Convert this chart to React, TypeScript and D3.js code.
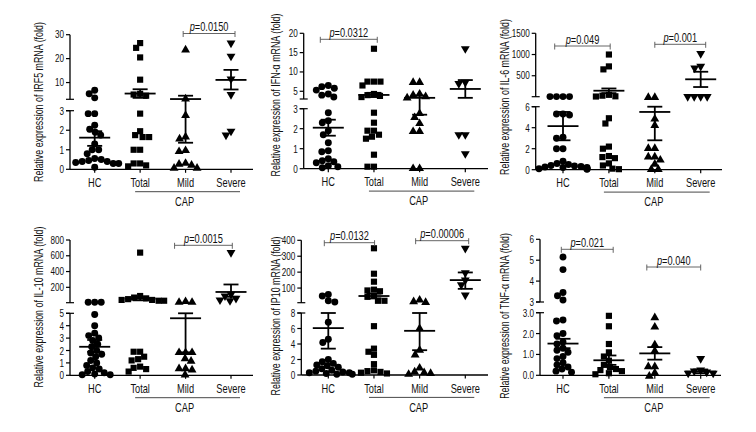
import React from "react";
import * as d3 from "d3";

// ---------- categories / labels ----------
const categories = ["HC", "Total", "Mild", "Severe"];
const groupLabel = "CAP";

// ---------- IRF5 ----------
const irf5HC = [6.8, 5.3, 3.6, 2.85, 2.85, 2.25, 2.05, 1.9, 1.75, 1.3, 1.0, 1.0, 0.8, 0.55, 0.5, 0.45, 0.4, 0.4, 0.35, 0.3, 0.3, 0.1];
const irf5Total = [26.5, 24.5, 20.5, 11.2, 5.3, 5.0, 4.5, 2.85, 1.95, 1.75, 1.65, 1.65, 1.0, 1.0, 0.3, 0.3, 0.2, 0.15];
const irf5Mild = [24, 3.5, 2.8, 1.7, 1.6, 1.0, 0.95, 0.35, 0.3, 0.25, 0.1, 0.1];
const irf5Severe = [26.5, 21, 11.5, 5.0, 1.95, 1.75];
const irf5Mean = [1.62, 5.4, 3.1, 11.1];
const irf5Lo = [1.2, 3.6, 1.36, 7.1];
const irf5Hi = [1.95, 7.2, 4.5, 15.3];

// ---------- IFN-α ----------
const ifnHC = [6.5, 6.2, 5.8, 5.3, 4.3, 4.0, 3.5, 2.8, 2.4, 2.3, 1.9, 1.7, 1.3, 0.9, 0.85, 0.5, 0.4, 0.35, 0.3, 0.15, 0.1, 0.05];
const ifnTotal = [16, 7.5, 7.5, 7.5, 6.5, 4.3, 4.0, 3.8, 3.5, 2.8, 2.3, 1.9, 1.9, 1.7, 1.6, 1.5, 0.7, 0.1, 0.1];
const ifnMild = [7.5, 7.5, 4.5, 4.2, 3.8, 3.5, 2.8, 2.6, 2.3, 1.9, 1.9, 0.05, 0.05];
const ifnSevere = [16, 7.3, 7.0, 1.7, 1.7, 0.75];
const ifnMean = [2.05, 4.05, 3.3, 5.6];
const ifnLo = [1.65, 3.5, 2.7, 3.3];
const ifnHi = [2.45, 4.6, 3.9, 7.9];

// ---------- IL-6 ----------
const il6HC = [8, 8, 8, 8, 5.3, 5.3, 5.2, 3.1, 3.0, 2.0, 2.0, 0.8, 0.6, 0.5, 0.4, 0.35, 0.3, 0.25, 0.2, 0.2, 0.15, 0.1, 0.1, 0.05];
const il6Total = [1000, 720, 650, 50, 30, 15, 10, 4.9, 4.4, 2.2, 2.0, 1.3, 1.2, 1.1, 0.6, 0.4, 0.1, 0.05];
const il6Mild = [8, 8, 4.9, 4.3, 2.1, 2.1, 1.3, 1.3, 1.0, 0.6, 0.1, 0.1];
const il6Severe = [1020, 720, 680, 10, 10, 10, 10];
const il6Mean = [4.15, 147, 5.5, 416];
const il6Lo = [2.8, 90, 2.8, 234];
const il6Hi = [5.5, 200, 6.0, 594];

// ---------- IL-10 ----------
const il10HC = [10, 10, 10, 4.9, 4.0, 3.4, 3.2, 3.0, 2.8, 2.5, 2.3, 2.0, 1.8, 1.7, 1.5, 1.2, 1.0, 0.8, 0.6, 0.5, 0.3, 0.2, 0.1, 0.05, 0.05];
const il10Total = [640, 90, 70, 60, 50, 40, 40, 30, 30, 1.9, 1.9, 1.5, 1.3, 1.2, 0.7, 0.6, 0.5, 0.3];
const il10Mild = [30, 20, 20, 1.9, 1.9, 1.9, 1.4, 1.2, 0.6, 0.6, 0.5, 0.1];
const il10Severe = [640, 110, 90, 60, 40, 30];
const il10Mean = [2.3, 56, 4.6, 141];
const il10Lo = [1.9, 35, 1.85, 80];
const il10Hi = [2.85, 75, 5.0, 236];

// ---------- IP10 ----------
const ip10HC = [60, 50, 20, 12, 6.8, 4.6, 4.2, 2.0, 1.7, 1.5, 1.3, 1.2, 1.0, 0.8, 0.6, 0.5, 0.4, 0.3, 0.3, 0.2, 0.1, 0.1];
const ip10Total = [350, 190, 140, 90, 85, 80, 50, 45, 20, 20, 6.3, 3.4, 3.0, 2.6, 1.4, 0.6, 0.5, 0.4, 0.3, 0.2];
const ip10Mild = [30, 20, 15, 6.1, 3.3, 2.7, 1.0, 0.5, 0.4, 0.3, 0.2];
const ip10Severe = [350, 195, 150, 120, 56];
const ip10Mean = [6.05, 50, 5.7, 150];
const ip10Lo = [3.4, 35, 3.2, 95];
const ip10Hi = [8.0, 65, 8.0, 198];

// ---------- TNF-α ----------
const tnfHC = [5.15, 4.55, 3.45, 3.3, 3.1, 2.65, 2.6, 2.0, 1.9, 1.6, 1.5, 1.3, 1.2, 1.1, 0.9, 0.8, 0.6, 0.5, 0.4, 0.3, 0.2, 0.15];
const tnfTotal = [2.85, 2.35, 1.5, 1.1, 0.9, 0.7, 0.5, 0.4, 0.3, 0.25, 0.2, 0.1, 0.05];
const tnfMild = [2.8, 2.35, 1.5, 1.2, 0.45, 0.45, 0.15, 0.0];
const tnfSevere = [0.8, 0.25, 0.2, 0.15, 0.1, 0.1];
const tnfMean = [1.52, 0.72, 1.05, 0.18];
const tnfLo = [1.3, 0.5, 0.75, 0.1];
const tnfHi = [1.75, 0.95, 1.35, 0.28];

// ---------- y tick labels ----------
const irf5UpTicks = [10, 20, 30];
const irf5LowTicks = [0, 1, 2, 3];
const ifnUpTicks = [5, 10, 15, 20];
const ifnLowTicks = [0, 1, 2, 3];
const il6UpTicks = [500, 1000, 1500];
const il6LowTicks = [0, 2, 4, 6];
const il10UpTicks = [200, 400, 600, 800];
const il10LowTicks = [0, 1, 2, 3, 4, 5];
const ip10UpTicks = [100, 200, 300, 400];
const ip10LowTicks = [0, 2, 4, 6, 8];
const tnfUpTicks = [3, 4, 5, 6];
const tnfLowTicks = [0, 1, 2, 3];

const FONT = "'Liberation Sans', Arial, sans-serif";
const NARROW = 0.74;

const panels = [
  {
    label: "Relative expression of IRF5 mRNA (fold)",
    groups: [irf5HC, irf5Total, irf5Mild, irf5Severe],
    mean: irf5Mean, lo: irf5Lo, hi: irf5Hi,
    upTicks: irf5UpTicks, lowTicks: irf5LowTicks, fmt: (v: number) => String(v),
    spineX: 70, axisEnd: 253, catRange: [94.7, 231],
    lowDom: [0, 3], lowRange: [169.3, 110.7], upDom: [3, 30], upRange: [99.3, 34.7],
    labelX: 39, labelY: 102,
    brackets: [{ a: 2, b: 3, dxA: -2.4, dxB: 4, y: 33.5, text: "0.0150" }],
  },
  {
    label: "Relative expression of IFN-\u03b1 mRNA (fold)",
    groups: [ifnHC, ifnTotal, ifnMild, ifnSevere],
    mean: ifnMean, lo: ifnLo, hi: ifnHi,
    upTicks: ifnUpTicks, lowTicks: ifnLowTicks, fmt: (v: number) => String(v),
    spineX: 303.7, axisEnd: 488, catRange: [328.3, 465.3],
    lowDom: [0, 3], lowRange: [168.7, 108.7], upDom: [3, 20], upRange: [99, 33.3],
    labelX: 276, labelY: 95,
    brackets: [{ a: 0, b: 1, dxA: -8, dxB: 3.3, y: 39.3, text: "0.0312" }],
  },
  {
    label: "Relative expression of IL-6 mRNA (fold)",
    groups: [il6HC, il6Total, il6Mild, il6Severe],
    mean: il6Mean, lo: il6Lo, hi: il6Hi,
    upTicks: il6UpTicks, lowTicks: il6LowTicks, fmt: (v: number) => String(v),
    spineX: 535.7, axisEnd: 722, catRange: [563, 700.7],
    lowDom: [0, 6], lowRange: [169.7, 106.7], upDom: [6, 1500], upRange: [96.7, 33.3],
    labelX: 505, labelY: 97,
    brackets: [
      { a: 0, b: 1, dxA: -8.3, dxB: 1.3, y: 46, text: "0.049" },
      { a: 2, b: 3, dxA: 0, dxB: 5, y: 44.3, text: "0.001" },
    ],
  },
  {
    label: "Relative expression of IL-10 mRNA (fold)",
    groups: [il10HC, il10Total, il10Mild, il10Severe],
    mean: il10Mean, lo: il10Lo, hi: il10Hi,
    upTicks: il10UpTicks, lowTicks: il10LowTicks, fmt: (v: number) => String(v),
    spineX: 70, axisEnd: 253, catRange: [94.7, 231],
    lowDom: [0, 5], lowRange: [375.3, 313.3], upDom: [5, 800], upRange: [302.7, 240],
    labelX: 39, labelY: 307,
    brackets: [{ a: 2, b: 3, dxA: -11, dxB: 1.3, y: 245.3, text: "0.0015" }],
  },
  {
    label: "Relative expression of IP10 mRNA (fold)",
    groups: [ip10HC, ip10Total, ip10Mild, ip10Severe],
    mean: ip10Mean, lo: ip10Lo, hi: ip10Hi,
    upTicks: ip10UpTicks, lowTicks: ip10LowTicks, fmt: (v: number) => String(v),
    spineX: 301.3, axisEnd: 488, catRange: [328.3, 465.3],
    lowDom: [0, 8], lowRange: [375, 313], upDom: [8, 400], upRange: [302.7, 240.3],
    labelX: 276, labelY: 316,
    brackets: [
      { a: 0, b: 1, dxA: -4, dxB: 0.6, y: 242.7, text: "0.0132" },
      { a: 2, b: 3, dxA: -4, dxB: 3.4, y: 240.7, text: "0.00006" },
    ],
  },
  {
    label: "Relative expression of TNF-\u03b1 mRNA (fold)",
    groups: [tnfHC, tnfTotal, tnfMild, tnfSevere],
    mean: tnfMean, lo: tnfLo, hi: tnfHi,
    upTicks: tnfUpTicks, lowTicks: tnfLowTicks, fmt: (v: number) => d3.format(".1f")(v),
    upFmt: (v: number) => String(v),
    spineX: 540, axisEnd: 721, catRange: [563, 700.7],
    lowDom: [0, 3], lowRange: [375.3, 312.7], upDom: [3, 6], upRange: [302, 239.3],
    labelX: 505, labelY: 316,
    brackets: [
      { a: 0, b: 1, dxA: -1.7, dxB: 4.3, y: 249.3, text: "0.021" },
      { a: 2, b: 3, dxA: -8, dxB: 0, y: 267, text: "0.040" },
    ],
  },
];

const symbolTypes = [d3.symbolCircle, d3.symbolSquare, d3.symbolTriangle, d3.symbolTriangle];
const symbolSizes = [38, 38, 34, 34];

function swarm(ys: number[], d: number, maxOff: number) {
  const placed: { x: number; y: number }[] = [];
  const order = ys.map((y, i) => i).sort((a, b) => ys[a] - ys[b]);
  const xs = new Array(ys.length).fill(0);
  for (const i of order) {
    const y = ys[i];
    let best = 0;
    for (let k = 0; k <= maxOff * 4; k++) {
      const off = (k % 2 === 0 ? 1 : -1) * Math.ceil(k / 2) * 0.5;
      const ok = placed.every((p) => (p.x - off) ** 2 + (p.y - y) ** 2 >= d * d);
      best = off;
      if (ok) break;
    }
    xs[i] = best;
    placed.push({ x: best, y });
  }
  return xs;
}

// condensed text helper
function NText({ x, y, anchor = "middle", size = 12, rotate = 0, children }: any) {
  return (
    <text
      transform={`translate(${x},${y})${rotate ? ` rotate(${rotate})` : ""} scale(${NARROW},1)`}
      textAnchor={anchor}
      fontSize={size}
      fontFamily={FONT}
      fill="#111"
    >
      {children}
    </text>
  );
}

function Panel({ p }: { p: any }) {
  const x = d3.scalePoint<string>().domain(categories).range(p.catRange);
  const low = d3.scaleLinear().domain(p.lowDom).range(p.lowRange);
  const up = d3.scaleLinear().domain(p.upDom).range(p.upRange);
  const y = (v: number) => (v <= p.lowDom[1] ? low(v) : up(Math.max(v, p.upDom[0])));
  const baseY = p.lowRange[0];
  const upFmt = p.upFmt || p.fmt;
  const sx = p.spineX;
  const lineX1 = (x(categories[1]) as number) - 5;
  const lineX2 = (x(categories[3]) as number) + 9;

  return (
    <g>
      {/* y label */}
      <NText x={p.labelX + 4.2} y={p.labelY} rotate={-90} size={12}>
        {p.label}
      </NText>

      {/* y axis: lower segment */}
      <line x1={sx} x2={sx} y1={p.lowRange[0]} y2={p.lowRange[1]} stroke="#000" strokeWidth={1.3} />
      <line x1={sx - 4} x2={sx + 4} y1={p.lowRange[1]} y2={p.lowRange[1]} stroke="#000" strokeWidth={1.2} />
      {p.lowTicks.map((t: number) => (
        <g key={"lt" + t}>
          <line x1={sx - 4} x2={sx} y1={low(t)} y2={low(t)} stroke="#000" strokeWidth={1.2} />
          <NText x={sx - 6} y={low(t) + 4} anchor="end" size={11}>
            {p.fmt(t)}
          </NText>
        </g>
      ))}
      {/* y axis: upper segment */}
      <line x1={sx} x2={sx} y1={p.upRange[0]} y2={p.upRange[1]} stroke="#000" strokeWidth={1.3} />
      <line x1={sx - 4} x2={sx + 4} y1={p.upRange[0]} y2={p.upRange[0]} stroke="#000" strokeWidth={1.2} />
      {p.upTicks.map((t: number) => (
        <g key={"ut" + t}>
          <line x1={sx - 4} x2={sx} y1={up(t)} y2={up(t)} stroke="#000" strokeWidth={1.2} />
          <NText x={sx - 6} y={up(t) + 3.5} anchor="end" size={11}>
            {upFmt(t)}
          </NText>
        </g>
      ))}

      {/* x axis */}
      <line x1={sx} x2={p.axisEnd} y1={baseY} y2={baseY} stroke="#000" strokeWidth={1.3} />
      {categories.map((c) => (
        <g key={c}>
          <line x1={x(c)} x2={x(c)} y1={baseY} y2={baseY + 3.5} stroke="#000" strokeWidth={1.2} />
          <NText x={x(c)} y={baseY + 17.5} size={12.5}>
            {c}
          </NText>
        </g>
      ))}
      <line x1={lineX1} x2={lineX2} y1={baseY + 22.4} y2={baseY + 22.4} stroke="#333" strokeWidth={0.9} />
      <NText x={(lineX1 + lineX2) / 2 - 3} y={baseY + 36.5} size={12.5}>
        {groupLabel}
      </NText>

      {/* points */}
      {p.groups.map((vals: number[], gi: number) => {
        const cx = x(categories[gi]) as number;
        const ys = vals.map(y);
        const offs = swarm(ys, 6.2, 24);
        const sym = d3.symbol().type(symbolTypes[gi]).size(symbolSizes[gi])();
        return (
          <g key={"g" + gi}>
            {vals.map((v, i) => (
              <path
                key={i}
                d={sym as string}
                transform={`translate(${cx + offs[i]},${ys[i]})${gi === 3 ? " rotate(180)" : gi === 2 ? " translate(0,0.8)" : ""}`}
                fill="#000"
              />
            ))}
          </g>
        );
      })}

      {/* mean ± SEM */}
      {categories.map((c, gi) => {
        const cx = x(c) as number;
        return (
          <g key={"m" + gi} stroke="#000">
            <line x1={cx - 15.5} x2={cx + 15.5} y1={y(p.mean[gi])} y2={y(p.mean[gi])} strokeWidth={1.8} />
            <line x1={cx} x2={cx} y1={y(p.lo[gi])} y2={y(p.hi[gi])} strokeWidth={1.8} />
            <line x1={cx - 7.5} x2={cx + 7.5} y1={y(p.lo[gi])} y2={y(p.lo[gi])} strokeWidth={1.8} />
            <line x1={cx - 7.5} x2={cx + 7.5} y1={y(p.hi[gi])} y2={y(p.hi[gi])} strokeWidth={1.8} />
          </g>
        );
      })}

      {/* significance brackets */}
      {p.brackets.map((b: any, bi: number) => {
        const x1 = (x(categories[b.a]) as number) + b.dxA;
        const x2 = (x(categories[b.b]) as number) + b.dxB;
        return (
          <g key={"b" + bi}>
            <line x1={x1} x2={x2} y1={b.y} y2={b.y} stroke="#555" strokeWidth={0.9} />
            <line x1={x1} x2={x1} y1={b.y - 2.5} y2={b.y + 3.5} stroke="#555" strokeWidth={0.9} />
            <line x1={x2} x2={x2} y1={b.y - 2.5} y2={b.y + 3.5} stroke="#555" strokeWidth={0.9} />
            <NText x={(x1 + x2) / 2} y={b.y - 2.5} size={12.5}>
              <tspan fontStyle="italic">p</tspan>
              {"=" + b.text}
            </NText>
          </g>
        );
      })}
    </g>
  );
}

export default function App() {
  return (
    <svg
      width={756}
      height={432}
      viewBox="0 0 756 432"
      style={{ position: "absolute", left: 0, top: 0, background: "#fff" }}
    >
      <rect width={756} height={432} fill="#fff" />
      {panels.map((p, i) => (
        <Panel key={i} p={p} />
      ))}
    </svg>
  );
}
